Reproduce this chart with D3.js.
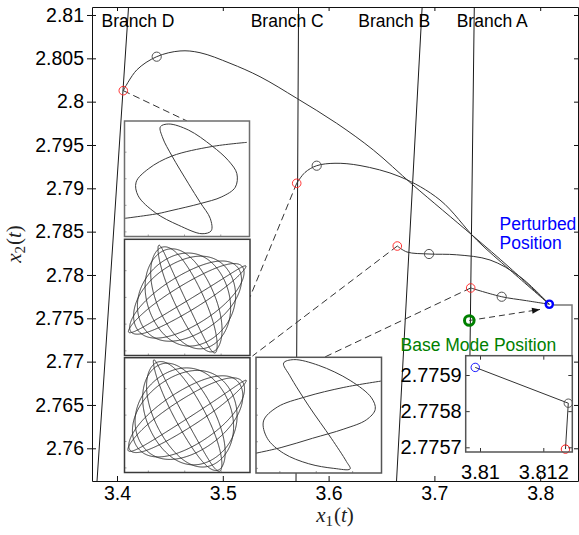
<!DOCTYPE html>
<html>
<head>
<meta charset="utf-8">
<script src="https://cdn.jsdelivr.net/npm/d3@7/dist/d3.min.js"></script>
<style>
  html, body { margin: 0; padding: 0; background: #fff; }
  svg { display: block; }
</style>
</head>
<body>
<svg id="chart" width="579" height="535"></svg>
<script>
// ---------- axis ticks ----------
const xTickValues = [3.4, 3.5, 3.6, 3.7, 3.8];
const yTickValues = [2.76, 2.765, 2.77, 2.775, 2.78, 2.785, 2.79, 2.795, 2.8, 2.805, 2.81];

// ---------- branch boundaries: [x1, x2] at upper and lower end ----------
const branchNames = ["Branch D", "Branch C", "Branch B", "Branch A"];
const branchUpper = [[3.4109, 2.8109], [3.5716, 2.8109], [3.6884, 2.8109], [3.7377, 2.8109]];
const branchLower = [[3.3811, 2.7562], [3.5692, 2.7562], [3.6642, 2.7562], [3.7321, 2.7562]];

// ---------- continuation paths from each branch point to the perturbed position ----------
const pathD = [[3.40595, 2.80127], [3.41862, 2.80365], [3.43752, 2.80519], [3.45955, 2.80585],
               [3.47845, 2.80565], [3.50681, 2.80443], [3.53516, 2.80288], [3.56985, 2.80039],
               [3.60766, 2.79750], [3.64225, 2.79442], [3.67977, 2.79038], [3.73554, 2.78461],
               [3.77146, 2.78081], [3.80860, 2.77662]];
const pathC = [[3.56985, 2.79058], [3.57769, 2.79183], [3.58875, 2.79261], [3.60605, 2.79289],
               [3.62968, 2.79263], [3.66749, 2.79134], [3.70529, 2.78865], [3.73998, 2.78404],
               [3.77146, 2.78057], [3.80860, 2.77662]];
const pathB = [[3.66493, 2.78334], [3.67410, 2.78265], [3.69490, 2.78242], [3.72108, 2.78233],
               [3.75255, 2.78173], [3.78091, 2.77980], [3.80860, 2.77662]];
const pathA = [[3.73431, 2.77850], [3.76361, 2.77749], [3.78563, 2.77706], [3.80860, 2.77662]];

const branchPoints = [pathD[0], pathC[0], pathB[0], pathA[0]];
const midPoints = [pathD[2], pathC[2], pathB[2], pathA[1]];
const perturbedPoint = [3.80860, 2.77662];
const basePoint = [3.73299, 2.77475];
const arrowTip = [3.79981, 2.77602];
// leader lines from each branch point to its orbit thumbnail
const leaderEnds = [[3.46616, 2.79777], [3.52571, 2.77746], [3.52807, 2.77065], [3.59660, 2.77054]];
// link from the perturbed position to the magnified view
const zoomLink = [[3.81304, 2.77654], [3.83006, 2.77654], [3.83006, 2.77065]];

// ---------- magnified view near the perturbed position ----------
const zoomXTicks = [3.81, 3.812];
const zoomYTicks = [2.7757, 2.7758, 2.7759];
const zoomPath = [[3.80985, 2.775921], [3.81279, 2.775822], [3.81270, 2.775695]];
const zoomColors = ["#0000ff", "#444444", "#ff0000"];

// ---------- orbit thumbnails (normalised box coordinates, y up) ----------
const orbitD = [[0.979, 0.815], [0.699, 0.779], [0.380, 0.697], [0.194, 0.588], [0.093, 0.471],
                [0.109, 0.353], [0.247, 0.206], [0.434, 0.097], [0.620, 0.024], [0.694, 0.050],
                [0.686, 0.156], [0.606, 0.294], [0.513, 0.456], [0.380, 0.697], [0.306, 0.853],
                [0.287, 0.950], [0.354, 0.974], [0.513, 0.921], [0.699, 0.785], [0.832, 0.656],
                [0.899, 0.544], [0.886, 0.426], [0.779, 0.344], [0.606, 0.285], [0.380, 0.226],
                [0.261, 0.197], [-0.05, 0.150]];
const orbitA = [[1.03, 0.80], [0.70, 0.74], [0.40, 0.66], [0.17, 0.57], [0.06, 0.45],
                [0.09, 0.30], [0.22, 0.17], [0.42, 0.08], [0.62, 0.04], [0.75, 0.035],
                [0.72, 0.10], [0.60, 0.30], [0.42, 0.58], [0.27, 0.84], [0.22, 0.95],
                [0.30, 0.98], [0.50, 0.93], [0.75, 0.80], [0.92, 0.65], [0.95, 0.55],
                [0.88, 0.46], [0.70, 0.38], [0.45, 0.30], [0.20, 0.22], [-0.05, 0.16]];
// quasi-periodic orbits of branches C and B: winding numbers and phases
const torusWinding = [7, 8];
const torusPhase = [0.35, 0.32];

// ---------------------------------------------------------------
const svg = d3.select("#chart");
const M = { left: 92, right: 578, top: 7, bottom: 481 };
const x = d3.scaleLinear().domain([3.37637, 3.83573]).range([M.left, M.right]);
const y = d3.scaleLinear().domain([2.810923, 2.756226]).range([M.top, M.bottom]);
const sans = "'Liberation Sans', Arial, Helvetica, sans-serif";
const serif = "'Liberation Serif', 'DejaVu Serif', 'Times New Roman', serif";

const smooth = d3.line().x(d => x(d[0])).y(d => y(d[1])).curve(d3.curveCatmullRom.alpha(0.5));
const straight = d3.line().x(d => x(d[0])).y(d => y(d[1]));

// branch boundary lines
svg.append("g").selectAll("line").data(branchNames).join("line")
  .attr("x1", (d, i) => x(branchUpper[i][0])).attr("y1", (d, i) => y(branchUpper[i][1]))
  .attr("x2", (d, i) => x(branchLower[i][0])).attr("y2", (d, i) => y(branchLower[i][1]))
  .attr("stroke", "#1a1a1a").attr("stroke-width", 1);

// continuation paths
svg.append("g").selectAll("path").data([pathD, pathC, pathB, pathA]).join("path")
  .attr("d", smooth).attr("fill", "none").attr("stroke", "#333").attr("stroke-width", 1);

// dashed leaders to the thumbnails
svg.append("g").selectAll("path").data(branchPoints).join("path")
  .attr("d", (d, i) => straight([d, leaderEnds[i]]))
  .attr("fill", "none").attr("stroke", "#333").attr("stroke-width", 1)
  .attr("stroke-dasharray", "7,4");

// dashed arrow from base mode to perturbed position
svg.append("path").attr("d", straight([basePoint, arrowTip]))
  .attr("fill", "none").attr("stroke", "#333").attr("stroke-width", 1).attr("stroke-dasharray", "6,4");
{
  const [bx, by] = [x(basePoint[0]), y(basePoint[1])];
  const [tx, ty] = [x(arrowTip[0]), y(arrowTip[1])];
  const a = Math.atan2(ty - by, tx - bx), L = 8, Wd = 3;
  const p1 = [tx - L * Math.cos(a) + Wd * Math.sin(a), ty - L * Math.sin(a) - Wd * Math.cos(a)];
  const p2 = [tx - L * Math.cos(a) - Wd * Math.sin(a), ty - L * Math.sin(a) + Wd * Math.cos(a)];
  svg.append("path").attr("d", `M${tx},${ty}L${p1}L${p2}Z`).attr("fill", "#111");
}

// ---------- thumbnails ----------
const thumbBoxes = [
  { x: 124.5, y: 121.0, w: 125.0, h: 115.5, stroke: "#6e6e6e" },
  { x: 124.5, y: 239.3, w: 125.5, h: 116.2, stroke: "#3a3a3a" },
  { x: 124.5, y: 357.7, w: 125.5, h: 114.8, stroke: "#3a3a3a" },
  { x: 256.0, y: 357.3, w: 125.5, h: 115.7, stroke: "#555" }
];
const torusFrames = [
  { c: [0.499, 0.485], e1: [0.348, -0.0895], e2: [0.122, 0.3755], bulge: 0.06 },
  { c: [0.498, 0.495], e1: [0.369, -0.090], e2: [0.104, 0.3975], bulge: 0.06 }
];
function torusOrbit(frame, phase) {
  const [p, q] = torusWinding, n = 3000;
  return d3.range(n + 1).map(k => {
    const tau = 2 * Math.PI * k / n;
    const s = Math.sin(p * tau + phase), t = Math.sin(q * tau);
    const w = 1 + frame.bulge * (1 - t * t);
    return [frame.c[0] + s * w * frame.e1[0] + t * frame.e2[0],
            frame.c[1] + s * w * frame.e1[1] + t * frame.e2[1]];
  });
}
const thumbOrbits = [
  { pts: orbitD, smooth: true, width: 1.0, color: "#3a3a3a" },
  { pts: torusOrbit(torusFrames[0], torusPhase[0]), smooth: false, width: 0.9, color: "#262626" },
  { pts: torusOrbit(torusFrames[1], torusPhase[1]), smooth: false, width: 0.9, color: "#262626" },
  { pts: orbitA, smooth: true, width: 1.0, color: "#3a3a3a" }
];
const defs = svg.append("defs");
thumbBoxes.forEach((b, i) => {
  const g = svg.append("g");
  defs.append("clipPath").attr("id", "thumb" + i)
    .append("rect").attr("x", b.x).attr("y", b.y).attr("width", b.w).attr("height", b.h);
  g.append("rect").attr("x", b.x).attr("y", b.y).attr("width", b.w).attr("height", b.h).attr("fill", "#fff");
  const u = d3.scaleLinear().domain([0, 1]).range([b.x, b.x + b.w]);
  const v = d3.scaleLinear().domain([0, 1]).range([b.y + b.h, b.y]);
  const o = thumbOrbits[i];
  const ln = d3.line().x(d => u(d[0])).y(d => v(d[1]));
  if (o.smooth) ln.curve(d3.curveCatmullRom.alpha(0.5));
  g.append("path").datum(o.pts).attr("d", ln).attr("clip-path", `url(#thumb${i})`)
    .attr("fill", "none").attr("stroke", o.color).attr("stroke-width", o.width);
  // faint tick marks of the thumbnail axes
  [0.19, 0.48, 0.77].forEach(f => g.append("line")
    .attr("x1", u(f)).attr("x2", u(f)).attr("y1", b.y + b.h).attr("y2", b.y + b.h - 2)
    .attr("stroke", "#888").attr("stroke-width", 0.8));
  [0.04, 0.27, 0.5, 0.73].forEach(f => g.append("line")
    .attr("y1", v(f)).attr("y2", v(f)).attr("x1", b.x).attr("x2", b.x + 2)
    .attr("stroke", "#888").attr("stroke-width", 0.8));
  g.append("rect").attr("x", b.x).attr("y", b.y).attr("width", b.w).attr("height", b.h)
    .attr("fill", "none").attr("stroke", b.stroke).attr("stroke-width", 1.5);
});

// ---------- markers ----------
svg.append("g").selectAll("circle").data(branchPoints).join("circle")
  .attr("cx", d => x(d[0])).attr("cy", d => y(d[1])).attr("r", 4.3)
  .attr("fill", "none").attr("stroke", "#ff2020").attr("stroke-width", 0.9);
svg.append("g").selectAll("circle").data(midPoints).join("circle")
  .attr("cx", d => x(d[0])).attr("cy", d => y(d[1])).attr("r", 4.6)
  .attr("fill", "none").attr("stroke", "#505050").attr("stroke-width", 1);
svg.append("circle").attr("cx", x(perturbedPoint[0])).attr("cy", y(perturbedPoint[1])).attr("r", 3.6)
  .attr("fill", "none").attr("stroke", "#0000ff").attr("stroke-width", 2.4);
svg.append("circle").attr("cx", x(basePoint[0])).attr("cy", y(basePoint[1])).attr("r", 4.8)
  .attr("fill", "none").attr("stroke", "#008000").attr("stroke-width", 3);

// link to magnified view
svg.append("path").attr("d", straight(zoomLink)).attr("fill", "none")
  .attr("stroke", "#777").attr("stroke-width", 1.5);

// ---------- labels ----------
const labelX = [101.5, 250.7, 358.3, 456.7];
svg.append("g").selectAll("text").data(branchNames).join("text")
  .attr("x", (d, i) => labelX[i]).attr("y", 26.8)
  .style("font-family", sans).style("font-size", "17.5px").attr("fill", "#000").text(d => d);

svg.append("text").attr("x", 499.5).attr("y", 230).style("font-family", sans).style("font-size", "17.5px")
  .attr("fill", "#0000ff").text("Perturbed");
svg.append("text").attr("x", 499.5).attr("y", 249).style("font-family", sans).style("font-size", "17.5px")
  .attr("fill", "#0000ff").text("Position");
svg.append("text").attr("x", 400.5).attr("y", 351).style("font-family", sans).style("font-size", "17.5px")
  .attr("fill", "#008000").text("Base Mode Position");

// ---------- magnified view ----------
{
  const box = { x0: 465.7, x1: 572.3, y0: 355.7, y1: 452 };
  svg.append("rect").attr("x", box.x0 - 2).attr("y", box.y0).attr("width", M.right - box.x0 + 2)
    .attr("height", M.bottom - box.y0).attr("fill", "#fff");
  const zx = d3.scaleLinear().domain([3.809548, 3.812916]).range([box.x0, box.x1]);
  const zy = d3.scaleLinear().domain([2.7759534, 2.775687]).range([box.y0, box.y1]);
  const zg = svg.append("g");
  zg.append("path").datum(zoomPath).attr("d", d3.line().x(d => zx(d[0])).y(d => zy(d[1])))
    .attr("fill", "none").attr("stroke", "#333").attr("stroke-width", 1);
  zg.selectAll("circle").data(zoomPath).join("circle")
    .attr("cx", d => zx(d[0])).attr("cy", d => zy(d[1])).attr("r", 4.2)
    .attr("fill", "none").attr("stroke", (d, i) => zoomColors[i]).attr("stroke-width", 0.9);
  const styleAxis = (g, labels) => {
    g.select(".domain").remove();
    g.selectAll(".tick line").attr("stroke", "#333");
    g.selectAll("text").style("font-family", sans).style("font-size", "20px").attr("fill", "#000");
    if (!labels) g.selectAll("text").remove();
  };
  zg.append("g").attr("transform", `translate(0,${box.y1})`)
    .call(d3.axisBottom(zx).tickValues(zoomXTicks).tickSize(-4).tickPadding(12.5).tickFormat(d3.format(".3~f")))
    .call(g => styleAxis(g, true));
  zg.append("g").attr("transform", `translate(0,${box.y0})`)
    .call(d3.axisTop(zx).tickValues(zoomXTicks).tickSize(-4)).call(g => styleAxis(g, false));
  zg.append("g").attr("transform", `translate(${box.x0},0)`)
    .call(d3.axisLeft(zy).tickValues(zoomYTicks).tickSize(-4).tickPadding(4).tickFormat(d3.format(".4f")))
    .call(g => styleAxis(g, true));
  zg.append("g").attr("transform", `translate(${box.x1},0)`)
    .call(d3.axisRight(zy).tickValues(zoomYTicks).tickSize(-4)).call(g => styleAxis(g, false));
  zg.append("rect").attr("x", box.x0).attr("y", box.y0).attr("width", box.x1 - box.x0)
    .attr("height", box.y1 - box.y0).attr("fill", "none").attr("stroke", "#555").attr("stroke-width", 1.5);
}

// ---------- main axes ----------
const axisStyle = (g, labels) => {
  g.select(".domain").attr("stroke", "#111").attr("stroke-width", 1);
  g.selectAll(".tick line").attr("stroke", "#111");
  g.selectAll("text").style("font-family", sans).style("font-size", "19.5px").attr("fill", "#000");
  if (!labels) g.selectAll("text").remove();
};
const fmt = d => String(+d.toFixed(3));
svg.append("g").attr("transform", `translate(0,${M.bottom})`)
  .call(d3.axisBottom(x).tickValues(xTickValues).tickSizeInner(-5).tickSizeOuter(0).tickPadding(5.5).tickFormat(fmt))
  .call(g => axisStyle(g, true));
svg.append("g").attr("transform", `translate(0,${M.top})`)
  .call(d3.axisTop(x).tickValues(xTickValues).tickSizeInner(-4).tickSizeOuter(0))
  .call(g => axisStyle(g, false));
svg.append("g").attr("transform", `translate(${M.left},0)`)
  .call(d3.axisLeft(y).tickValues(yTickValues).tickSizeInner(5).tickSizeOuter(0).tickPadding(3).tickFormat(fmt))
  .call(g => axisStyle(g, true));
svg.append("g").attr("transform", `translate(${M.left},0)`)
  .call(d3.axisRight(y).tickValues(yTickValues).tickSizeInner(4).tickSizeOuter(0))
  .call(g => { g.select(".domain").remove(); axisStyle(g, false); });
svg.append("g").attr("transform", `translate(${M.right},0)`)
  .call(d3.axisLeft(y).tickValues(yTickValues).tickSizeInner(4).tickSizeOuter(0))
  .call(g => axisStyle(g, false));

// axis titles
{
  const t = svg.append("text").attr("x", 335).attr("y", 522).attr("text-anchor", "middle")
    .style("font-family", serif).style("font-size", "21px").attr("fill", "#222");
  t.append("tspan").style("font-style", "italic").text("x");
  t.append("tspan").attr("dy", 4).style("font-size", "15px").text("1");
  t.append("tspan").attr("dy", -4).attr("dx", 1).text("(");
  t.append("tspan").style("font-style", "italic").text("t");
  t.append("tspan").text(")");
  const s = svg.append("text").attr("transform", "translate(21,244) rotate(-90)").attr("text-anchor", "middle")
    .style("font-family", serif).style("font-size", "21px").attr("fill", "#222");
  s.append("tspan").style("font-style", "italic").text("x");
  s.append("tspan").attr("dy", 4).style("font-size", "15px").text("2");
  s.append("tspan").attr("dy", -4).attr("dx", 1).text("(");
  s.append("tspan").style("font-style", "italic").text("t");
  s.append("tspan").text(")");
}
</script>
</body>
</html>
